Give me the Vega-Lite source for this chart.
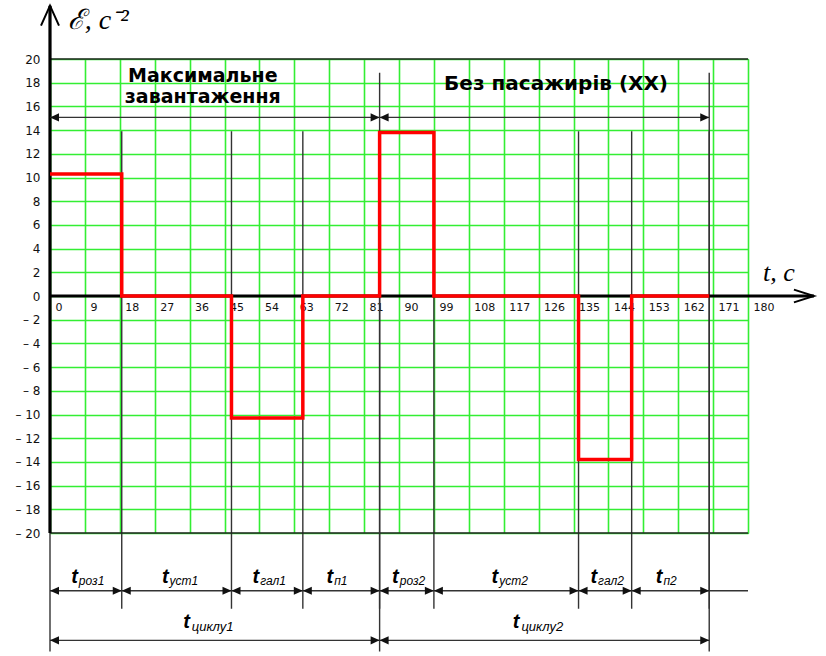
{
  "$schema": "https://vega.github.io/schema/vega-lite/v6.json",
  "width": 698,
  "height": 474,
  "autosize": {"type": "none"},
  "padding": {"left": 50, "top": 59, "right": 78, "bottom": 123},
  "background": "white",
  "config": {"view": {"stroke": "#222", "strokeWidth": 1}},
  "datasets": {
    "accel": [
      {"t": 0, "eps": 10.3},
      {"t": 18.5, "eps": 0},
      {"t": 46.8, "eps": -10.3},
      {"t": 65.2, "eps": 0},
      {"t": 85, "eps": 13.8},
      {"t": 99, "eps": 0},
      {"t": 136.3, "eps": -13.8},
      {"t": 150, "eps": 0},
      {"t": 170, "eps": 0}
    ],
    "phases": [
      {"a": 0, "b": 18.5, "mid": 9.25, "sub": "роз1"},
      {"a": 18.5, "b": 46.8, "mid": 32.65, "sub": "уст1"},
      {"a": 46.8, "b": 65.2, "mid": 56, "sub": "гал1"},
      {"a": 65.2, "b": 85, "mid": 75.1, "sub": "п1"},
      {"a": 85, "b": 99, "mid": 92, "sub": "роз2"},
      {"a": 99, "b": 136.3, "mid": 117.65, "sub": "уст2"},
      {"a": 136.3, "b": 150, "mid": 143.15, "sub": "гал2"},
      {"a": 150, "b": 170, "mid": 160, "sub": "п2"}
    ],
    "cycles": [
      {"a": 0, "b": 85, "mid": 42.5, "sub": "циклу1"},
      {"a": 85, "b": 170, "mid": 127.5, "sub": "циклу2"}
    ],
    "modes": [
      {"a": 0, "b": 85, "mode": "Максимальне завантаження"},
      {"a": 85, "b": 170, "mode": "Без пасажирів (ХХ)"}
    ]
  },
  "layer": [
    {
      "data": {"name": "phases"},
      "mark": {"type": "rule", "color": "#333", "strokeWidth": 1.4},
      "encoding": {
        "x": {
          "field": "b",
          "type": "quantitative",
          "scale": {"domain": [0, 180], "nice": false, "zero": false},
          "axis": {
            "title": null,
            "values": [0, 9, 18, 27, 36, 45, 54, 63, 72, 81, 90, 99, 108, 117, 126, 135, 144, 153, 162, 171, 180],
            "tickCount": 40,
            "grid": true,
            "gridColor": "#33ee33",
            "gridWidth": 1.6,
            "gridOpacity": 1,
            "domain": false,
            "ticks": false,
            "tickSize": 0,
            "offset": -237,
            "labelAlign": "left",
            "labelBaseline": "top",
            "labelOffset": 5,
            "labelPadding": 5,
            "labelFont": "DejaVu Sans",
            "labelFontSize": 11,
            "labelColor": "#111",
            "labelFlush": false,
            "labelOverlap": false
          }
        },
        "y": {
          "datum": 13.9,
          "type": "quantitative",
          "scale": {"domain": [-20, 20], "nice": false, "zero": false},
          "axis": {
            "title": null,
            "values": [-20, -18, -16, -14, -12, -10, -8, -6, -4, -2, 0, 2, 4, 6, 8, 10, 12, 14, 16, 18, 20],
            "tickCount": 40,
            "grid": true,
            "gridColor": "#33ee33",
            "gridWidth": 1.6,
            "gridOpacity": 1,
            "domain": false,
            "ticks": false,
            "tickSize": 0,
            "labelPadding": 10,
            "labelExpr": "datum.value < 0 ? '– ' + abs(datum.value) : '' + datum.value",
            "labelFont": "DejaVu Sans",
            "labelFontSize": 12,
            "labelColor": "#111",
            "labelFlush": false,
            "labelOverlap": false
          }
        },
        "y2": {"datum": -26.4}
      }
    },
    {
      "data": {"values": [{}]},
      "mark": {"type": "rule", "color": "#222", "strokeWidth": 1.3},
      "encoding": {
        "x": {"datum": 0, "type": "quantitative"},
        "x2": {"datum": 180},
        "y": {"datum": 20, "type": "quantitative"}
      }
    },
    {
      "data": {"values": [{}]},
      "mark": {"type": "rule", "color": "#222", "strokeWidth": 1.3},
      "encoding": {
        "x": {"datum": 0, "type": "quantitative"},
        "x2": {"datum": 180},
        "y": {"datum": -20, "type": "quantitative"}
      }
    },
    {
      "data": {"name": "cycles"},
      "mark": {"type": "rule", "color": "#333", "strokeWidth": 1.4},
      "encoding": {
        "x": {"field": "b", "type": "quantitative"},
        "y": {"datum": 18.84, "type": "quantitative"},
        "y2": {"datum": -30}
      }
    },
    {
      "data": {"values": [{}]},
      "mark": {"type": "rule", "color": "#333", "strokeWidth": 1.4},
      "encoding": {
        "x": {"datum": 0, "type": "quantitative"},
        "y": {"datum": -20, "type": "quantitative"},
        "y2": {"datum": -30}
      }
    },
    {
      "data": {"values": [{}]},
      "mark": {"type": "rule", "color": "#000", "strokeWidth": 3.2},
      "encoding": {
        "x": {"datum": 0, "type": "quantitative"},
        "y": {"datum": -20, "type": "quantitative"},
        "y2": {"datum": 24.5}
      }
    },
    {
      "data": {"values": [{}]},
      "mark": {"type": "rule", "color": "#000", "strokeWidth": 3.2},
      "encoding": {
        "x": {"datum": 0, "type": "quantitative"},
        "x2": {"datum": 197},
        "y": {"datum": 0, "type": "quantitative"}
      }
    },
    {
      "data": {"values": [{}]},
      "mark": {"type": "point", "shape": "M-0.45,1L0,0L0.45,1", "size": 1600, "filled": false, "color": "#000", "strokeWidth": 2, "opacity": 1},
      "encoding": {
        "x": {"datum": 0, "type": "quantitative"},
        "y": {"datum": 24.5, "type": "quantitative"}
      }
    },
    {
      "data": {"values": [{}]},
      "mark": {"type": "point", "shape": "M-1,-0.32L0,0L-1,0.32", "size": 1600, "filled": false, "color": "#000", "strokeWidth": 2, "opacity": 1},
      "encoding": {
        "x": {"datum": 197, "type": "quantitative"},
        "y": {"datum": 0, "type": "quantitative"}
      }
    },
    {
      "data": {"name": "accel"},
      "mark": {"type": "line", "interpolate": "step-after", "color": "#ff0000", "strokeWidth": 3.5, "strokeJoin": "miter"},
      "encoding": {
        "x": {"field": "t", "type": "quantitative"},
        "y": {"field": "eps", "type": "quantitative"}
      }
    },
    {
      "data": {"name": "modes"},
      "mark": {"type": "rule", "color": "#333", "strokeWidth": 1.4},
      "encoding": {
        "x": {"field": "a", "type": "quantitative"},
        "x2": {"field": "b"},
        "y": {"datum": 15.07, "type": "quantitative"}
      }
    },
    {
      "data": {"name": "phases"},
      "mark": {"type": "rule", "color": "#333", "strokeWidth": 1.4},
      "encoding": {
        "x": {"field": "a", "type": "quantitative"},
        "x2": {"field": "b"},
        "y": {"datum": -24.87, "type": "quantitative"}
      }
    },
    {
      "data": {"values": [{}]},
      "mark": {"type": "rule", "color": "#333", "strokeWidth": 1.4},
      "encoding": {
        "x": {"datum": 170, "type": "quantitative"},
        "x2": {"datum": 180},
        "y": {"datum": -24.87, "type": "quantitative"}
      }
    },
    {
      "data": {"name": "cycles"},
      "mark": {"type": "rule", "color": "#333", "strokeWidth": 1.4},
      "encoding": {
        "x": {"field": "a", "type": "quantitative"},
        "x2": {"field": "b"},
        "y": {"datum": -29.06, "type": "quantitative"}
      }
    },
    {
      "data": {"name": "modes"},
      "mark": {"type": "point", "shape": "M0,0L1,-0.45L1,0.45Z", "size": 324, "filled": true, "color": "#111", "opacity": 1, "strokeWidth": 0},
      "encoding": {
        "x": {"field": "a", "type": "quantitative"},
        "y": {"datum": 15.07, "type": "quantitative"}
      }
    },
    {
      "data": {"name": "modes"},
      "mark": {"type": "point", "shape": "M0,0L-1,-0.45L-1,0.45Z", "size": 324, "filled": true, "color": "#111", "opacity": 1, "strokeWidth": 0},
      "encoding": {
        "x": {"field": "b", "type": "quantitative"},
        "y": {"datum": 15.07, "type": "quantitative"}
      }
    },
    {
      "data": {"name": "phases"},
      "mark": {"type": "point", "shape": "M0,0L1,-0.45L1,0.45Z", "size": 324, "filled": true, "color": "#111", "opacity": 1, "strokeWidth": 0},
      "encoding": {
        "x": {"field": "a", "type": "quantitative"},
        "y": {"datum": -24.87, "type": "quantitative"}
      }
    },
    {
      "data": {"name": "phases"},
      "mark": {"type": "point", "shape": "M0,0L-1,-0.45L-1,0.45Z", "size": 324, "filled": true, "color": "#111", "opacity": 1, "strokeWidth": 0},
      "encoding": {
        "x": {"field": "b", "type": "quantitative"},
        "y": {"datum": -24.87, "type": "quantitative"}
      }
    },
    {
      "data": {"name": "cycles"},
      "mark": {"type": "point", "shape": "M0,0L1,-0.45L1,0.45Z", "size": 324, "filled": true, "color": "#111", "opacity": 1, "strokeWidth": 0},
      "encoding": {
        "x": {"field": "a", "type": "quantitative"},
        "y": {"datum": -29.06, "type": "quantitative"}
      }
    },
    {
      "data": {"name": "cycles"},
      "mark": {"type": "point", "shape": "M0,0L-1,-0.45L-1,0.45Z", "size": 324, "filled": true, "color": "#111", "opacity": 1, "strokeWidth": 0},
      "encoding": {
        "x": {"field": "b", "type": "quantitative"},
        "y": {"datum": -29.06, "type": "quantitative"}
      }
    },
    {
      "data": {"name": "phases"},
      "mark": {"type": "text", "text": "t", "font": "Liberation Sans", "fontStyle": "italic", "fontWeight": "bold", "fontSize": 20, "align": "right", "baseline": "alphabetic", "dx": -8, "color": "#000"},
      "encoding": {
        "x": {"field": "mid", "type": "quantitative"},
        "y": {"datum": -24.19, "type": "quantitative"}
      }
    },
    {
      "data": {"name": "phases"},
      "mark": {"type": "text", "font": "Liberation Sans", "fontStyle": "italic", "fontSize": 12, "align": "left", "baseline": "alphabetic", "dx": -7, "dy": 2, "color": "#000"},
      "encoding": {
        "x": {"field": "mid", "type": "quantitative"},
        "y": {"datum": -24.19, "type": "quantitative"},
        "text": {"field": "sub", "type": "nominal"}
      }
    },
    {
      "data": {"name": "cycles"},
      "mark": {"type": "text", "text": "t", "font": "Liberation Sans", "fontStyle": "italic", "fontWeight": "bold", "fontSize": 20, "align": "right", "baseline": "alphabetic", "dx": -25, "color": "#000"},
      "encoding": {
        "x": {"field": "mid", "type": "quantitative"},
        "y": {"datum": -28.0, "type": "quantitative"}
      }
    },
    {
      "data": {"name": "cycles"},
      "mark": {"type": "text", "font": "Liberation Sans", "fontStyle": "italic", "fontSize": 13, "align": "left", "baseline": "alphabetic", "dx": -23, "dy": 3, "color": "#000"},
      "encoding": {
        "x": {"field": "mid", "type": "quantitative"},
        "y": {"datum": -28.0, "type": "quantitative"},
        "text": {"field": "sub", "type": "nominal"}
      }
    },
    {
      "data": {"values": [{}]},
      "mark": {"type": "text", "text": "Максимальне\nзавантаження", "lineBreak": "\n", "lineHeight": 21, "font": "DejaVu Sans", "fontWeight": "bold", "fontSize": 19, "align": "center", "baseline": "alphabetic", "color": "#000"},
      "encoding": {
        "x": {"datum": 39.4, "type": "quantitative"},
        "y": {"datum": 18.1, "type": "quantitative"}
      }
    },
    {
      "data": {"values": [{}]},
      "mark": {"type": "text", "text": "Без пасажирів (ХХ)", "font": "DejaVu Sans", "fontWeight": "bold", "fontSize": 20, "align": "center", "baseline": "alphabetic", "color": "#000"},
      "encoding": {
        "x": {"datum": 130.5, "type": "quantitative"},
        "y": {"datum": 17.35, "type": "quantitative"}
      }
    },
    {
      "data": {"values": [{}]},
      "mark": {"type": "text", "text": "t,    с", "font": "Liberation Serif", "fontStyle": "italic", "fontSize": 26, "align": "left", "baseline": "alphabetic", "color": "#000"},
      "encoding": {
        "x": {"datum": 183.9, "type": "quantitative"},
        "y": {"datum": 1.3, "type": "quantitative"}
      }
    },
    {
      "data": {"values": [{}]},
      "mark": {"type": "text", "text": "ℰ, с⁻²", "font": "Liberation Serif", "fontStyle": "italic", "fontSize": 28, "align": "left", "baseline": "alphabetic", "color": "#000"},
      "encoding": {
        "x": {"datum": 4.6, "type": "quantitative"},
        "y": {"datum": 22.5, "type": "quantitative"}
      }
    }
  ]
}
